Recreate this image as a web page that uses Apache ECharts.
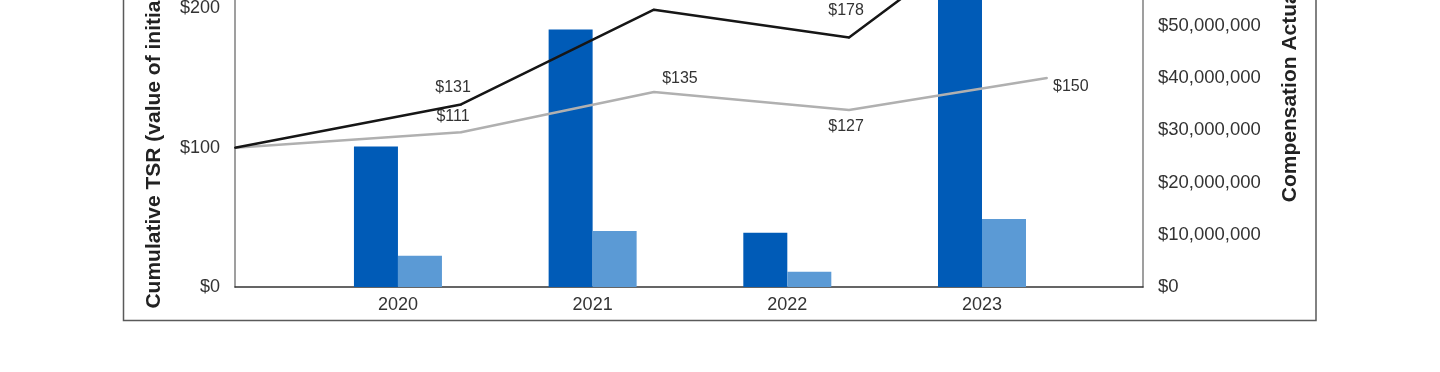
<!DOCTYPE html>
<html>
<head>
<meta charset="utf-8">
<script src="https://cdn.jsdelivr.net/npm/echarts@6/dist/echarts.min.js"></script>
<style>
html,body{margin:0;padding:0;background:#fff;overflow:hidden;width:1440px;height:372px;}
#chart{position:absolute;left:0;top:-140px;width:1440px;height:512px;}
</style>
</head>
<body>
<div id="chart"></div>
<script>
// ---- data ----
const years = [2020, 2021, 2022, 2023];
const capPEO = [26.9e6, 49.3e6, 10.4e6, 70e6];      // Compensation Actually Paid (dark blue)
const capNEO = [6.0e6, 10.7e6, 2.9e6, 13.0e6];      // average other NEOs (light blue)
const lineX = [2019.163, 2020.324, 2021.315, 2022.317, 2023.334];
const companyTSR = [100, 131, 199, 179, 285];
const peerTSR = [100, 111, 140, 127, 150];
const companyLabels = ['', '$131', '$198', '$178', '$285'];
const peerLabels = ['', '$111', '$135', '$127', '$150'];
const leftTicks = [0, 100, 200, 300];
const rightMax = 80e6;

const FONT = '"Liberation Sans", Arial, Helvetica, sans-serif';

const companyLabelCfg = [
  null,
  {position: 'top', offset: [-8, -3]},
  {position: 'top', offset: [-8, -3]},
  {position: 'top', offset: [-3, -13]},
  {position: 'top', offset: [0, -3]}
];
const peerLabelCfg = [
  null,
  {position: 'top', offset: [-8, -2]},
  {position: 'top', offset: [26, 1]},
  {position: 'bottom', offset: [-3, 3]},
  {position: 'right', offset: [0, 9]}
];

function lineData(vals, labels, cfg) {
  return vals.map((v, i) => {
    const item = {value: [lineX[i], v]};
    if (cfg[i]) {
      item.label = Object.assign({show: true, formatter: labels[i]}, cfg[i]);
    } else {
      item.label = {show: false};
    }
    return item;
  });
}

const chart = echarts.init(document.getElementById('chart'), null, {renderer: 'canvas'});
chart.setOption({
  animation: false,
  backgroundColor: '#ffffff',
  textStyle: {fontFamily: FONT},
  graphic: [{
    type: 'rect',
    shape: {x: 123.5, y: 60, width: 1192.5, height: 400.5},
    style: {fill: 'none', stroke: '#5a5a5a', lineWidth: 1.5},
    z: -1
  }],
  grid: {left: 235, right: 297, top: 9, bottom: 85, containLabel: false, outerBoundsMode: 'none'},
  xAxis: [{
    type: 'value',
    min: lineX[0],
    max: 2023.827,
    axisLine: {show: true, onZero: false, lineStyle: {color: '#333', width: 1.5}},
    axisTick: {show: false},
    splitLine: {show: false},
    axisLabel: {
      customValues: years,
      formatter: v => String(v),
      fontSize: 18, color: '#333', margin: 9, fontFamily: FONT
    }
  }],
  yAxis: [{
    type: 'value',
    position: 'left',
    min: leftTicks[0], max: leftTicks[leftTicks.length - 1], interval: 100,
    name: 'Cumulative TSR (value of initial $100 investment)',
    nameLocation: 'middle', nameRotate: 90, nameGap: 70,
    nameTextStyle: {fontSize: 21, fontWeight: 'bold', color: '#222', fontFamily: FONT, padding: [0, 0, 0, 29]},
    axisLine: {show: true, lineStyle: {color: '#7f7f7f', width: 1.5}},
    axisTick: {show: false},
    splitLine: {show: false},
    axisLabel: {formatter: v => '$' + v, fontSize: 18, color: '#333', margin: 15, fontFamily: FONT}
  }, {
    type: 'value',
    position: 'right',
    min: 0, max: rightMax, interval: 10e6,
    name: 'Compensation Actually Paid',
    nameLocation: 'middle', nameRotate: 90, nameGap: 137,
    nameTextStyle: {fontSize: 21, fontWeight: 'bold', color: '#222', fontFamily: FONT, padding: [0, 0, 0, 35]},
    axisLine: {show: true, lineStyle: {color: '#7f7f7f', width: 1.5}},
    axisTick: {show: false},
    splitLine: {show: false},
    axisLabel: {formatter: v => '$' + Math.round(v).toLocaleString('en-US'), fontSize: 18.5, color: '#333', margin: 15, fontFamily: FONT}
  }],
  series: [{
    type: 'bar',
    name: 'CAP PEO',
    xAxisIndex: 0, yAxisIndex: 1,
    data: years.map((y, i) => [y, capPEO[i]]),
    barWidth: 44, barGap: '0%',
    itemStyle: {color: '#005bb7'},
    z: 1
  }, {
    type: 'bar',
    name: 'CAP NEO',
    xAxisIndex: 0, yAxisIndex: 1,
    data: years.map((y, i) => [y, capNEO[i]]),
    barWidth: 44, barGap: '0%',
    itemStyle: {color: '#5b9ad5'},
    z: 1
  }, {
    type: 'line',
    name: 'Company TSR',
    xAxisIndex: 0, yAxisIndex: 0,
    data: lineData(companyTSR, companyLabels, companyLabelCfg),
    symbol: 'circle', symbolSize: 2, showSymbol: true,
    itemStyle: {color: '#161616'},
    lineStyle: {color: '#161616', width: 2.5},
    label: {fontSize: 16, color: '#333', fontFamily: FONT},
    z: 3
  }, {
    type: 'line',
    name: 'Peer TSR',
    xAxisIndex: 0, yAxisIndex: 0,
    data: lineData(peerTSR, peerLabels, peerLabelCfg),
    symbol: 'circle', symbolSize: 2, showSymbol: true,
    itemStyle: {color: '#b0b0b0'},
    lineStyle: {color: '#b0b0b0', width: 2.5},
    label: {fontSize: 16, color: '#333', fontFamily: FONT},
    z: 2
  }]
});
</script>
</body>
</html>
